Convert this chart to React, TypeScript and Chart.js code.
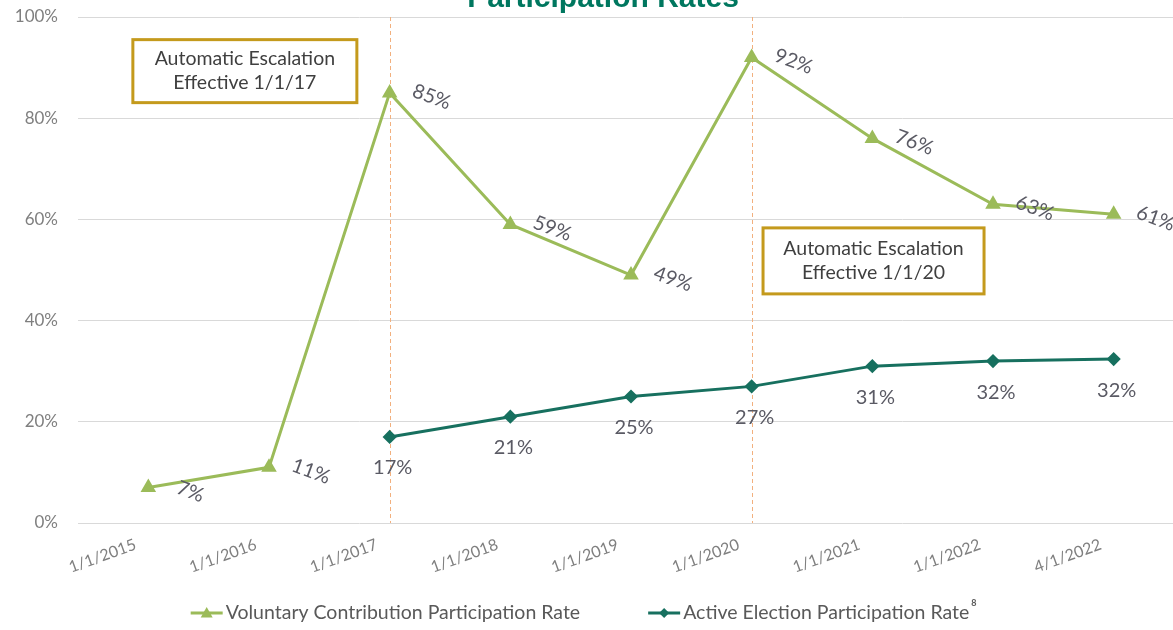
import React, { useEffect, useRef } from "react";
import { Chart, registerables } from "chart.js";

Chart.register(...registerables);

const categories = ["1/1/2015", "1/1/2016", "1/1/2017", "1/1/2018", "1/1/2019", "1/1/2020", "1/1/2021", "1/1/2022", "4/1/2022"];
const voluntaryRates = [7, 11, 85, 59, 49, 92, 76, 63, 61];
const activeRates = [null, null, 17, 21, 25, 27, 31, 32, 32.4];
const yTickValues = [0, 20, 40, 60, 80, 100];
const escalationDates = ["1/1/2017", "1/1/2020"];
const seriesNames = ["Voluntary Contribution Participation Rate", "Active Election Participation Rate"];
const footnoteMark = "8";
const titleText = "Participation Rates";
const noteLines1 = ["Automatic Escalation", "Effective 1/1/17"];
const noteLines2 = ["Automatic Escalation", "Effective 1/1/20"];

const FONT = "Lato, 'Open Sans', sans-serif";
const VOL_COLOR = "#9bbb59";
const ACT_COLOR = "#17705f";
const LABEL_COLOR = "#5a5a64";

function drawTriangle(ctx: CanvasRenderingContext2D, x: number, y: number, r: number) {
  ctx.beginPath();
  ctx.moveTo(x, y - r);
  ctx.lineTo(x + r, y + r * 0.75);
  ctx.lineTo(x - r, y + r * 0.75);
  ctx.closePath();
  ctx.fill();
}
function drawDiamond(ctx: CanvasRenderingContext2D, x: number, y: number, r: number) {
  ctx.beginPath();
  ctx.moveTo(x, y - r);
  ctx.lineTo(x + r, y);
  ctx.lineTo(x, y + r);
  ctx.lineTo(x - r, y);
  ctx.closePath();
  ctx.fill();
}

const overlay = {
  id: "overlay",
  beforeDatasetsDraw(chart: any) {
    const { ctx, chartArea, scales } = chart;
    const x = scales.x;
    ctx.save();
    ctx.strokeStyle = "#f2b07e";
    ctx.lineWidth = 1;
    ctx.setLineDash([4, 3]);
    escalationDates.forEach((d) => {
      const px = Math.round(x.getPixelForValue(categories.indexOf(d))) + 0.5;
      ctx.beginPath();
      ctx.moveTo(px, chartArea.top);
      ctx.lineTo(px, chartArea.bottom);
      ctx.stroke();
    });
    ctx.restore();
  },
  afterDatasetsDraw(chart: any) {
    const { ctx, scales } = chart;
    const x = scales.x;
    const y = scales.y;

    // data labels - voluntary
    const m0 = chart.getDatasetMeta(0);
    m0.data.forEach((pt: any, i: number) => {
      const v = voluntaryRates[i];
      if (v == null) return;
      ctx.save();
      ctx.translate(pt.x + 42, pt.y + 4);
      ctx.rotate((20 * Math.PI) / 180);
      ctx.font = `20px ${FONT}`;
      ctx.fillStyle = LABEL_COLOR;
      ctx.textAlign = "center";
      ctx.textBaseline = "middle";
      ctx.fillText(`${Math.round(v)}%`, 0, 0);
      ctx.restore();
    });
    // data labels - active
    const m1 = chart.getDatasetMeta(1);
    m1.data.forEach((pt: any, i: number) => {
      const v = activeRates[i];
      if (v == null) return;
      ctx.save();
      ctx.font = `20px ${FONT}`;
      ctx.fillStyle = LABEL_COLOR;
      ctx.textAlign = "center";
      ctx.textBaseline = "middle";
      ctx.fillText(`${Math.round(v)}%`, pt.x + 3, pt.y + 31);
      ctx.restore();
    });

    // annotation boxes
    const boxes = [
      { cx: x.getPixelForValue(0.8), cy: y.getPixelForValue(89.3), w: 224, h: 63, lines: noteLines1 },
      { cx: x.getPixelForValue(6.01), cy: y.getPixelForValue(51.8), w: 221, h: 66, lines: noteLines2 },
    ];
    boxes.forEach((b) => {
      ctx.save();
      ctx.fillStyle = "#ffffff";
      ctx.fillRect(b.cx - b.w / 2, b.cy - b.h / 2, b.w, b.h);
      ctx.strokeStyle = "#c49a1c";
      ctx.lineWidth = 3;
      ctx.strokeRect(b.cx - b.w / 2, b.cy - b.h / 2, b.w, b.h);
      ctx.fillStyle = "#3f3f3f";
      ctx.font = `19.5px ${FONT}`;
      ctx.textAlign = "center";
      ctx.textBaseline = "middle";
      ctx.fillText(b.lines[0], b.cx, b.cy - 12);
      ctx.fillText(b.lines[1], b.cx, b.cy + 12);
      ctx.restore();
    });

    // title (cut off at top)
    ctx.save();
    ctx.font = `bold 30px 'Liberation Sans', Arial, sans-serif`;
    ctx.fillStyle = "#00775f";
    ctx.textAlign = "center";
    ctx.textBaseline = "alphabetic";
    ctx.fillText(titleText, 603, 7);
    ctx.restore();

    // legend
    ctx.save();
    const LFONT = `19.5px ${FONT}`;
    ctx.font = LFONT;
    const markW = 32;
    const gapText = 3;
    const gapItems = 68;
    const w0 = ctx.measureText(seriesNames[0]).width;
    const w1 = ctx.measureText(seriesNames[1]).width;
    const total = markW + gapText + w0 + gapItems + markW + gapText + w1 + 8;
    let lx = 584 - total / 2;
    const ly = 613;
    const items = [
      { color: VOL_COLOR, name: seriesNames[0], w: w0, shape: "tri" },
      { color: ACT_COLOR, name: seriesNames[1], w: w1, shape: "dia" },
    ];
    items.forEach((it, idx) => {
      ctx.strokeStyle = it.color;
      ctx.fillStyle = it.color;
      ctx.lineWidth = 3;
      ctx.beginPath();
      ctx.moveTo(lx, ly);
      ctx.lineTo(lx + markW, ly);
      ctx.stroke();
      if (it.shape === "tri") drawTriangle(ctx, lx + markW / 2, ly, 6);
      else drawDiamond(ctx, lx + markW / 2, ly, 5);
      ctx.fillStyle = "#595959";
      ctx.textAlign = "left";
      ctx.textBaseline = "middle";
      ctx.fillText(it.name, lx + markW + gapText, ly);
      if (idx === 1) {
        ctx.font = `bold 9px ${FONT}`;
        ctx.fillText(footnoteMark, lx + markW + gapText + it.w + 2, ly - 10);
        ctx.font = LFONT;
      }
      lx += markW + gapText + it.w + gapItems;
    });
    ctx.restore();
  },
};

export default function App() {
  const ref = useRef<HTMLCanvasElement | null>(null);
  useEffect(() => {
    if (!ref.current) return;
    const chart = new Chart(ref.current, {
      type: "line",
      data: {
        labels: categories,
        datasets: [
          {
            label: seriesNames[0],
            data: voluntaryRates,
            borderColor: VOL_COLOR,
            backgroundColor: VOL_COLOR,
            borderWidth: 3,
            pointStyle: "triangle",
            pointRadius: 6,
            pointHoverRadius: 6,
            tension: 0,
          },
          {
            label: seriesNames[1],
            data: activeRates,
            borderColor: ACT_COLOR,
            backgroundColor: ACT_COLOR,
            borderWidth: 3,
            pointStyle: "rectRot",
            pointRadius: 5,
            pointHoverRadius: 5,
            tension: 0,
            spanGaps: false,
          },
        ],
      },
      options: {
        animation: false,
        responsive: false,
        maintainAspectRatio: false,
        devicePixelRatio: 1,
        layout: { padding: { top: 17, right: 0, bottom: 47, left: 0 } },
        plugins: { legend: { display: false }, title: { display: false }, tooltip: { enabled: false } },
        scales: {
          x: {
            offset: true,
            grid: { display: false },
            border: { display: false },
            ticks: {
              color: "#7f7f7f",
              font: { family: FONT, size: 16 },
              minRotation: 20,
              maxRotation: 20,
              padding: 4,
              labelOffset: -13,
            },
            afterFit: (s: any) => {
              s.height = 60;
              s.paddingRight = 0;
              s.paddingLeft = 0;
            },
          },
          y: {
            min: 0,
            max: 100,
            afterBuildTicks: (s: any) => {
              s.ticks = yTickValues.map((v) => ({ value: v }));
            },
            grid: { color: "#d9d9d9", lineWidth: 1, tickLength: 10, drawTicks: true },
            border: { display: false },
            ticks: {
              color: "#7f7f7f",
              font: { family: FONT, size: 17 },
              padding: 20,
              callback: (v: any) => `${v}%`,
            },
            afterFit: (s: any) => {
              s.width = 88;
              s.paddingTop = 0;
              s.paddingBottom = 0;
            },
          },
        },
      },
      plugins: [overlay],
    });
    return () => chart.destroy();
  }, []);
  return (
    <div style={{ position: "absolute", left: 0, top: 0, width: 1173, height: 630, background: "#fff", overflow: "hidden" }}>
      <canvas ref={ref} width={1183} height={630} style={{ display: "block" }} />
    </div>
  );
}
